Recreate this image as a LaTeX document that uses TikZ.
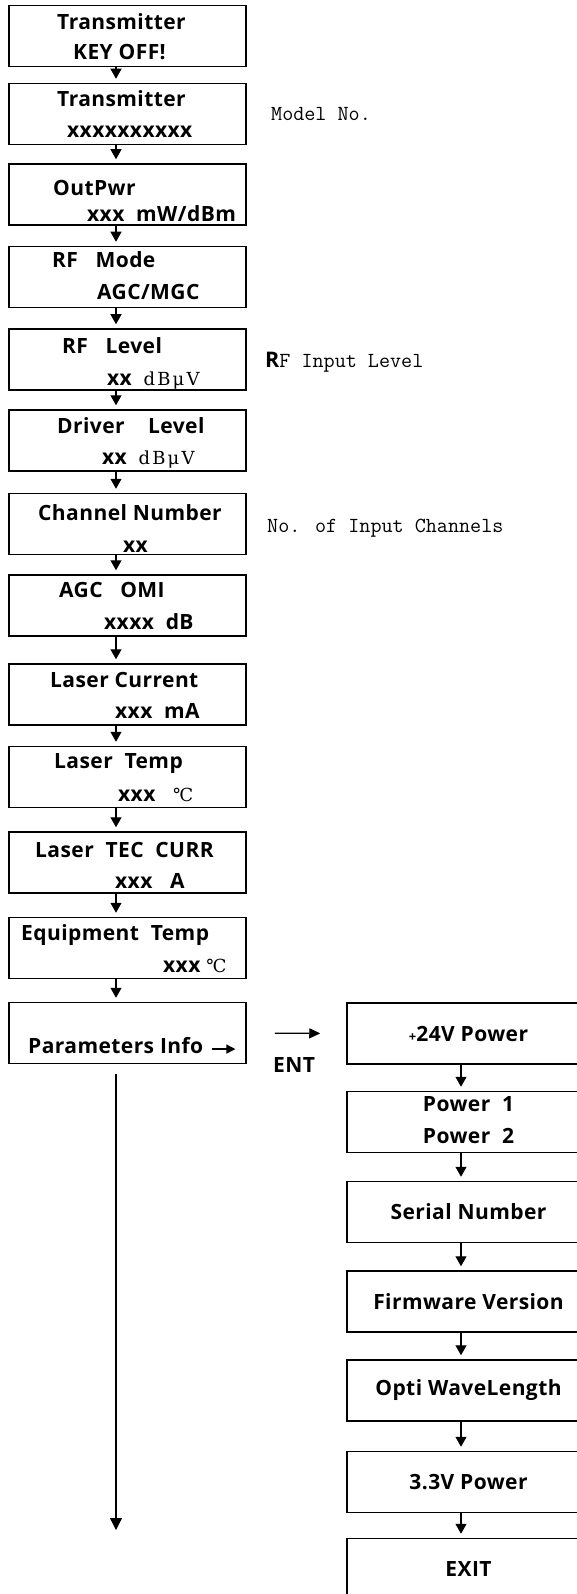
\documentclass[tikz,border=0pt]{standalone}
\usepackage{fontspec}
\usetikzlibrary{arrows.meta}
\newfontfamily\lcdfont{Open Sans}[LetterSpace=2]
\newfontfamily\unitfont{DejaVu Serif}[LetterSpace=12]
\newcommand{\unit}[1]{{\unitfont\mdseries\fontsize{18}{18}\selectfont #1}}

\begin{document}
\begin{tikzpicture}[x=1pt,y=-1pt,
    lcdbox/.style={draw, line width=1.5pt, minimum width=237pt, minimum height=61pt, inner sep=0pt},
    subbox/.style={lcdbox, minimum width=243pt, font=\lcdfont\bfseries\fontsize{21}{32}\selectfont},
    lcdline/.style={anchor=base west, inner sep=0pt, font=\lcdfont\bfseries\fontsize{21}{21}\selectfont},
    notetext/.style={anchor=base west, inner sep=0pt, font=\ttfamily\fontsize{21.5}{21.5}\selectfont},
    nextarrow/.style={-{Triangle[width=11pt,length=10pt]}, line width=1.2pt, shorten >=4pt},
    entarrow/.style={-{Triangle[width=10pt,length=11pt]}, line width=1.2pt}]
    \useasboundingbox (0,0) rectangle (577,1594);
    \clip (0,0) rectangle (577,1594);

    % x of the arrows between the screens
    \coordinate (spine) at (116,0);
    \coordinate (rspine) at (461,0);

    % main menu screens
    \node[lcdbox] (s1) at (127.5,36) {};
    \node[lcdbox] (s2) at (127.5,114) {};
    \node[lcdbox] (s3) at (127.5,194.5) {};
    \node[lcdbox] (s4) at (127.5,277) {};
    \node[lcdbox] (s5) at (127.5,359.5) {};
    \node[lcdbox] (s6) at (127.5,440.5) {};
    \node[lcdbox] (s7) at (127.5,524) {};
    \node[lcdbox] (s8) at (127.5,605.5) {};
    \node[lcdbox] (s9) at (127.5,694.5) {};
    \node[lcdbox] (s10) at (127.5,777) {};
    \node[lcdbox] (s11) at (127.5,862.5) {};
    \node[lcdbox] (s12) at (127.5,948) {};
    \node[lcdbox] (s13) at (127.5,1033) {};

    % screen texts
    \node[lcdline] (s1a) at (57,30) {Transmitter};
    \node[lcdline] (s1b) at (73,60) {KEY OFF!};
    \node[lcdline] (s2a) at (57,107) {Transmitter};
    \node[lcdline] (s2b) at (67,138) {xxxxxxxxxx};
    \node[lcdline] (s3a) at (53,196) {OutPwr};
    \node[lcdline] (s3b) at (87,222) {xxx~~mW/dBm};
    \node[lcdline] (s4a) at (52,268) {RF~~~Mode};
    \node[lcdline] (s4b) at (97,300) {AGC/MGC};
    \node[lcdline] (s5a) at (62,353) {RF~~~Level};
    \node[lcdline] (s5b) at (107,385) {xx~~\unit{dBμV}};
    \node[lcdline] (s6a) at (57,433) {Driver~~~~Level};
    \node[lcdline] (s6b) at (102,464) {xx~~\unit{dBμV}};
    \node[lcdline] (s7a) at (38,520) {Channel Number};
    \node[lcdline] (s7b) at (123,552) {xx};
    \node[lcdline] (s8a) at (59,597) {AGC~~~OMI};
    \node[lcdline] (s8b) at (104,629) {xxxx~~dB};
    \node[lcdline] (s9a) at (50,687) {Laser Current};
    \node[lcdline] (s9b) at (115,718) {xxx~~mA};
    \node[lcdline] (s10a) at (54,768) {Laser~~Temp};
    \node[lcdline] (s10b) at (118,801) {xxx~~~\unit{℃}};
    \node[lcdline] (s11a) at (35,857) {Laser~~TEC~~CURR};
    \node[lcdline] (s11b) at (115,888) {xxx~~~A};
    \node[lcdline] (s12a) at (21,940) {Equipment~~Temp};
    \node[lcdline] (s12b) at (163,972) {xxx~\unit{℃}};
    \node[lcdline] (s13t) at (28,1053) {Parameters Info};
    \draw[entarrow, -{Triangle[width=9pt,length=9pt]}] ([shift={(9,4)}]s13t.east) -- ++(23,0);

    % side notes
    \node[notetext] (model) at (271,121) {Model No.};
    \node[notetext] (rfin) at (265,367) {{\lcdfont\bfseries R}F Input Level};
    \node[notetext] (chans) at (267,532) {No. of Input Channels};

    % parameters info sub menu
    \node[subbox] (r1) at (468.5,1033.5) {{\fontsize{13}{13}\selectfont+}24V Power};
    \node[subbox, align=left, text depth=4pt] (r2) at (468.5,1122) {Power~~1\\Power~~2};
    \node[subbox] (r3) at (468.5,1212) {Serial Number};
    \node[subbox] (r4) at (468.5,1301.5) {Firmware Version};
    \node[subbox] (r5) at (468.5,1390.5) {Opti WaveLength};
    \node[subbox] (r6) at (468.5,1482) {3.3V Power};
    \node[subbox] (r7) at (468.5,1569) {EXIT};

    % arrows
    \foreach \a/\b in {s1/s2,s2/s3,s3/s4,s4/s5,s5/s6,s6/s7,s7/s8,s8/s9,s9/s10,s10/s11,s11/s12,s12/s13}
        \draw[nextarrow] (\a.south -| spine) -- (\b.north -| spine);
    \foreach \a/\b in {r1/r2,r2/r3,r3/r4,r4/r5,r5/r6,r6/r7}
        \draw[nextarrow] (\a.south -| rspine) -- (\b.north -| rspine);

    \draw[entarrow, shorten <=28pt, shorten >=26pt] (s13.east) -- (r1.west);
    \node[lcdline] (ent) at (273,1072) {ENT};

    \coordinate (tail) at (116,1530);
    \draw[entarrow, -{Triangle[width=12pt,length=12pt]}, shorten <=10pt] (s13.south -| spine) -- (tail);
\end{tikzpicture}
\end{document}
